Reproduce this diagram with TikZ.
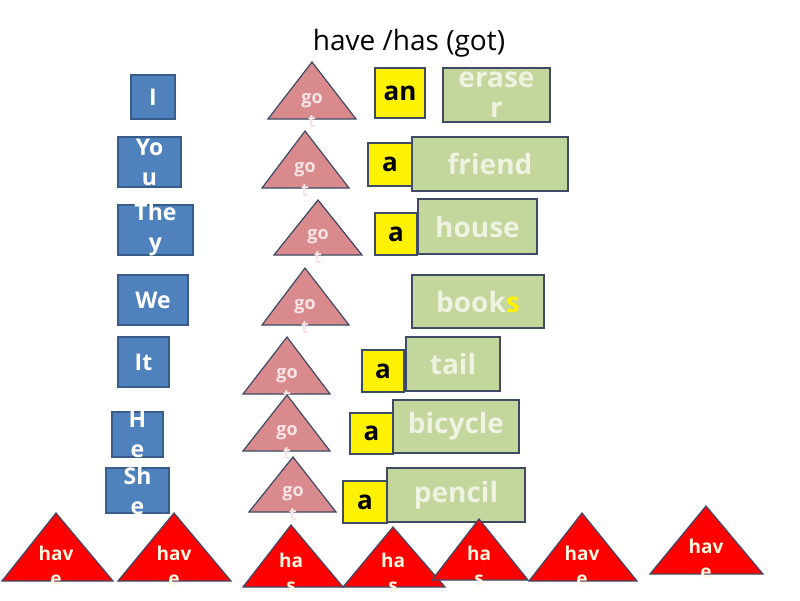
\documentclass[tikz,border=0pt]{standalone}
\usepackage{fontspec}
\setmainfont{Open Sans}
\usepackage{tikz}

\definecolor{subjblue}{HTML}{4F81BD}
\definecolor{subjline}{HTML}{385D8A}
\definecolor{gotpink}{HTML}{D98A8D}
\definecolor{gottext}{HTML}{F8E4E4}
\definecolor{nounfill}{HTML}{C3D69B}
\definecolor{nountext}{HTML}{EEF3E2}
\definecolor{darkline}{HTML}{3E4A66}
\definecolor{hasred}{HTML}{FF0000}
\definecolor{hastext}{HTML}{FFF6E0}

\begin{document}
\begin{tikzpicture}[x=1pt, y=-1pt,
  subjbox/.style={draw=subjline, line width=1.2pt, fill=subjblue, inner sep=0pt},
  subjtxt/.style={text=white, font=\fontsize{23}{30}\selectfont\bfseries, align=center},
  artbox/.style={draw=darkline, line width=1.2pt, fill=yellow, inner sep=0pt,
    font=\fontsize{26}{30}\selectfont\bfseries},
  nounbox/.style={draw=darkline, line width=1.2pt, fill=nounfill, inner sep=0pt},
  nountxt/.style={text=nountext, font=\fontsize{28}{30}\selectfont\bfseries, align=center},
  gotshape/.style={draw=darkline, line width=1.2pt, fill=gotpink, line join=miter},
  gottxt/.style={text=gottext, font=\fontsize{18}{24}\selectfont\bfseries, align=center},
  hasshape/.style={draw=darkline, line width=1.2pt, fill=hasred},
  hastxt/.style={text=hastext, font=\fontsize{19}{25}\selectfont\bfseries, align=center}]

\useasboundingbox (0,0) rectangle (800,600);

% title
\node (title) at (409,43) {\fontsize{28}{32}\selectfont have /has (got)};

% subjects
\node[subjbox, minimum width=44, minimum height=44, label={[subjtxt]center:I}] (sI) at (153,97) {};
\node[subjbox, minimum width=63, minimum height=50, label={[subjtxt]center:Yo\\u}] (sYou) at (149.5,162) {};
\node[subjbox, minimum width=75, minimum height=50, label={[subjtxt]center:The\\y}] (sThey) at (155.5,230) {};
\node[subjbox, minimum width=70, minimum height=50, label={[subjtxt]center:We}] (sWe) at (153,300) {};
\node[subjbox, minimum width=51, minimum height=50, label={[subjtxt]center:It}] (sIt) at (143.5,362) {};
\node[subjbox, minimum width=51, minimum height=45, label={[subjtxt]center:H\\e}] (sHe) at (137.5,434.5) {};
\node[subjbox, minimum width=63, minimum height=45, label={[subjtxt]center:Sh\\e}] (sShe) at (137.5,490.5) {};

% got triangles
\draw[gotshape] (312,62) -- (356,119) -- (268,119) -- cycle;
\node[gottxt] (got1) at (312,111) {go\\t};
\draw[gotshape] (305,131) -- (349,188) -- (262,188) -- cycle;
\node[gottxt] (got2) at (305,180) {go\\t};
\draw[gotshape] (318,200) -- (362,255) -- (274,255) -- cycle;
\node[gottxt] (got3) at (318,247) {go\\t};
\draw[gotshape] (305,268) -- (349,325) -- (262,325) -- cycle;
\node[gottxt] (got4) at (305,317) {go\\t};
\draw[gotshape] (287,337) -- (330,394) -- (243,394) -- cycle;
\node[gottxt] (got5) at (287,386) {go\\t};
\draw[gotshape] (287,395) -- (330,451) -- (243,451) -- cycle;
\node[gottxt] (got6) at (287,443) {go\\t};
\draw[gotshape] (293,457) -- (336,512) -- (249,512) -- cycle;
\node[gottxt] (got7) at (293,504) {go\\t};

% nouns
\node[nounbox, minimum width=107, minimum height=54, label={[nountxt]center:erase\\r}] (eraser) at (496.5,95) {};
\node[nounbox, minimum width=156, minimum height=54, label={[nountxt]center:friend}] (friend) at (490,164) {};
\node[nounbox, minimum width=119, minimum height=55, label={[nountxt]center:house}] (house) at (477.5,226.5) {};
\node[nounbox, minimum width=132, minimum height=53, label={[nountxt]center:book\textcolor{yellow}{s}}] (books) at (478,301.5) {};
\node[nounbox, minimum width=94, minimum height=54, label={[nountxt]center:tail}] (tail) at (453,364) {};
\node[nounbox, minimum width=126, minimum height=53, label={[nountxt]center:bicycle}] (bicycle) at (456,426.5) {};
\node[nounbox, minimum width=138, minimum height=54, label={[nountxt]center:pencil}] (pencil) at (456,495) {};

% articles
\node[artbox, minimum width=50, minimum height=50] (art1) at (400,93) {an};
\node[artbox, minimum width=44, minimum height=43] (art2) at (390,164.5) {a};
\node[artbox, minimum width=42, minimum height=42] (art3) at (396,234) {a};
\node[artbox, minimum width=42, minimum height=42] (art5) at (383,371) {a};
\node[artbox, minimum width=43, minimum height=41] (art6) at (371.5,433.5) {a};
\node[artbox, minimum width=44, minimum height=42] (art7) at (365,502) {a};

% have / has triangles
\draw[hasshape] (56,513) -- (113,581) -- (2,581) -- cycle;
\node[hastxt] (have1) at (56,566) {hav\\e};
\draw[hasshape] (174,513) -- (231,581) -- (118,581) -- cycle;
\node[hastxt] (have2) at (174,566) {hav\\e};
\draw[hasshape] (291,525) -- (343,587) -- (243,587) -- cycle;
\node[hastxt] (has1) at (291,573) {ha\\s};
\draw[hasshape] (393,527) -- (445,587) -- (343,587) -- cycle;
\node[hastxt] (has2) at (393,573) {ha\\s};
\draw[hasshape] (479,519) -- (528,580) -- (432,580) -- cycle;
\node[hastxt] (has3) at (479,566) {ha\\s};
\draw[hasshape] (582,513) -- (637,581) -- (529,581) -- cycle;
\node[hastxt] (have3) at (582,566) {hav\\e};
\draw[hasshape] (706,506) -- (763,574) -- (650,574) -- cycle;
\node[hastxt] (have4) at (706,559) {hav\\e};

\end{tikzpicture}
\end{document}
